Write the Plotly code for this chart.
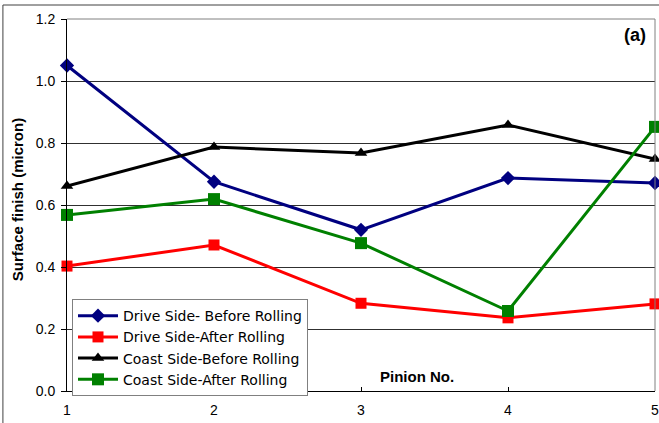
import plotly.graph_objects as go

pinion = [1, 2, 3, 4, 5]
drive_before = [1.05, 0.675, 0.52, 0.687, 0.671]
drive_after = [0.403, 0.471, 0.283, 0.236, 0.281]
coast_before = [0.661, 0.787, 0.768, 0.858, 0.748]
coast_after = [0.568, 0.619, 0.477, 0.258, 0.852]

y_ticks = [0.0, 0.2, 0.4, 0.6, 0.8, 1.0, 1.2]
y_labels = ["0.0", "0.2", "0.4", "0.6", "0.8", "1.0", "1.2"]

series = [
    ("Drive Side- Before Rolling", drive_before, "#000080", "diamond", 11),
    ("Drive Side-After Rolling", drive_after, "#FF0000", "square", 11),
    ("Coast Side-Before Rolling", coast_before, "#000000", "triangle-up", 11),
    ("Coast Side-After Rolling", coast_after, "#008000", "square", 12),
]

fig = go.Figure()
for name, vals, col, sym, sz in series:
    fig.add_trace(go.Scatter(
        x=pinion, y=vals, name=name, mode="lines+markers",
        line=dict(color=col, width=3),
        marker=dict(symbol=sym, size=sz, color=col),
        cliponaxis=False,
    ))

font = "Liberation Sans, Arial, sans-serif"
fig.update_layout(
    width=659, height=423,
    margin=dict(l=67, r=4, t=19, b=32, autoexpand=False),
    paper_bgcolor="white", plot_bgcolor="white",
    font=dict(family=font, size=14, color="black"),
    showlegend=True,
    legend=dict(
        x=0.0085, y=0.247, xanchor="left", yanchor="top",
        bgcolor="white", bordercolor="#808080", borderwidth=1,
        font=dict(size=14, family="DejaVu Sans, sans-serif"), tracegroupgap=0,
        itemwidth=40,
    ),
    xaxis=dict(
        range=[1, 5], tickvals=pinion, ticktext=[str(p) for p in pinion],
        showgrid=False, zeroline=False, showline=True, linecolor="black", linewidth=1,
        ticks="inside", ticklen=4, tickcolor="black", ticklabelstandoff=6,
        tickfont=dict(size=14), automargin=False, ticklabeloverflow="allow",
    ),
    yaxis=dict(
        range=[0, 1.2], tickvals=y_ticks, ticktext=y_labels,
        showgrid=True, gridcolor="#303030", gridwidth=1, zeroline=False,
        showline=True, linecolor="black", linewidth=1,
        ticks="outside", ticklen=5, tickcolor="black", ticklabelstandoff=3,
        tickfont=dict(size=14), automargin=False,
    ),
    shapes=[
        dict(type="line", xref="paper", yref="paper", x0=0, x1=1, y0=1, y1=1,
             line=dict(color="#808080", width=1)),
        dict(type="line", xref="paper", yref="paper", x0=1, x1=1, y0=0, y1=1,
             line=dict(color="#808080", width=1)),
        dict(type="line", xref="paper", yref="paper", x0=-0.109, x1=1.01, y0=1.0376, y1=1.0376,
             line=dict(color="#404040", width=1)),
        dict(type="line", xref="paper", yref="paper", x0=-0.109, x1=-0.109, y0=-0.09, y1=1.0376,
             line=dict(color="#404040", width=1)),
    ],
    annotations=[
        dict(text="<b>Surface finish (micron)</b>", xref="paper", yref="paper",
             x=-0.085, y=0.513, textangle=-90, showarrow=False,
             font=dict(size=15), xanchor="center", yanchor="middle"),
        dict(text="<b>Pinion No.</b>", xref="paper", yref="paper", x=0.595, y=0.038,
             showarrow=False, font=dict(size=15), xanchor="center", yanchor="middle"),
        dict(text="<b>(a)</b>", xref="paper", yref="paper", x=0.988, y=0.957,
             showarrow=False, font=dict(size=18), xanchor="right", yanchor="middle"),
    ],
)

fig.write_html("out.html", config={"displayModeBar": False},
               post_script="document.body.style.margin='0px';document.body.style.overflow='hidden';")
